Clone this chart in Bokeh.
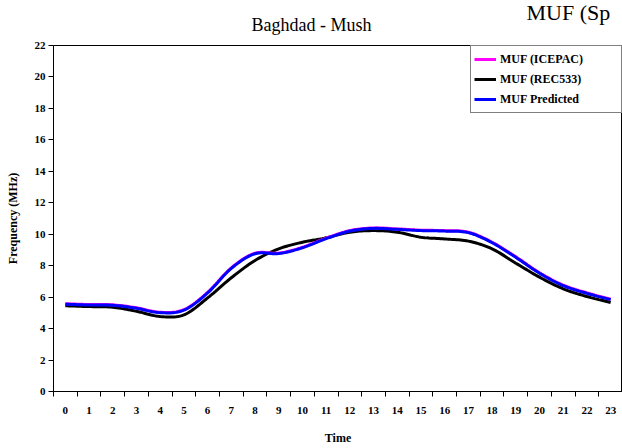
import numpy as np
from bokeh.plotting import figure
from bokeh.models import FixedTicker, Legend, LegendItem, Range1d, Title
from bokeh.embed import file_html
from bokeh.resources import INLINE

hours = list(range(24))
hour_labels = [str(h) for h in hours]
muf_icepac = [5.58, 5.53, 5.51, 5.32, 5.04, 5.20, 6.30, 7.86, 8.79, 8.80, 9.17, 9.75,
              10.23, 10.40, 10.34, 10.26, 10.23, 10.13, 9.49, 8.56, 7.55, 6.76, 6.27, 5.87]
muf_rec533 = [5.45, 5.40, 5.36, 5.10, 4.77, 4.87, 5.95, 7.23, 8.33, 9.07, 9.49, 9.77,
              10.13, 10.23, 10.13, 9.81, 9.70, 9.56, 9.07, 8.16, 7.27, 6.53, 6.04, 5.66]
muf_predicted = [5.55, 5.50, 5.48, 5.29, 5.01, 5.17, 6.27, 7.83, 8.76, 8.77, 9.14, 9.72,
                 10.20, 10.37, 10.31, 10.23, 10.20, 10.10, 9.46, 8.53, 7.52, 6.73, 6.24, 5.84]
y_ticks = list(range(0, 23, 2))

F_BOLD = "serif"
F_TITLE = "Times New Roman"


def smooth(xs, ys, n=12):
    # Catmull-Rom rendering of a smoothed line through the data points
    x = np.asarray(xs, float)
    y = np.asarray(ys, float)
    px = np.concatenate([[2 * x[0] - x[1]], x, [2 * x[-1] - x[-2]]])
    py = np.concatenate([[2 * y[0] - y[1]], y, [2 * y[-1] - y[-2]]])
    ox, oy = [], []
    t = np.linspace(0, 1, n, endpoint=False)
    for i in range(1, len(px) - 2):
        for arr, out in ((px, ox), (py, oy)):
            p0, p1, p2, p3 = arr[i - 1], arr[i], arr[i + 1], arr[i + 2]
            out.extend(0.5 * ((2 * p1) + (-p0 + p2) * t + (2 * p0 - 5 * p1 + 4 * p2 - p3) * t ** 2
                              + (-p0 + 3 * p1 - 3 * p2 + p3) * t ** 3))
    ox.append(x[-1]); oy.append(y[-1])
    return ox, oy


p = figure(width=622, height=448, output_backend="svg", toolbar_location=None,
           x_range=Range1d(-0.5, 23.5), y_range=Range1d(0, 22),
           min_border_left=53, min_border_right=0, min_border_top=45, min_border_bottom=57)
p.background_fill_color = "white"
p.border_fill_color = "white"
p.outline_line_color = "black"
p.outline_line_width = 1
p.xgrid.visible = False
p.ygrid.visible = False

# X axis: labels centred on hours, tick marks between them
p.xaxis.ticker = FixedTicker(ticks=hours, minor_ticks=[h - 0.5 for h in range(25)])
p.xaxis.major_label_overrides = {h: lab for h, lab in zip(hours, hour_labels)}
p.xaxis.major_tick_line_color = None
p.xaxis.major_tick_out = 0
p.xaxis.major_tick_in = 0
p.xaxis.minor_tick_out = 5
p.xaxis.minor_tick_in = 0
p.xaxis.minor_tick_line_color = "black"
p.xaxis.major_label_standoff = 10
p.xaxis.axis_label = "Time"
p.xaxis.axis_label_standoff = 14

p.yaxis.ticker = FixedTicker(ticks=y_ticks)
p.yaxis.minor_tick_line_color = None
p.yaxis.major_tick_out = 5
p.yaxis.major_tick_in = 0
p.yaxis.major_label_standoff = 3
p.yaxis.axis_label = "Frequency (MHz)"
p.yaxis.axis_label_standoff = 12

for ax in (p.xaxis, p.yaxis):
    ax.axis_line_color = "black"
    ax.major_label_text_font = F_BOLD
    ax.major_label_text_font_style = "bold"
    ax.major_label_text_font_size = "11px"
    ax.major_label_text_color = "black"
    ax.axis_label_text_font = F_BOLD
    ax.axis_label_text_font_style = "bold"
    ax.axis_label_text_font_size = "12px"
    ax.axis_label_text_color = "black"

sx, sy = smooth(hours, muf_rec533)
r_rec = p.line(sx, sy, line_color="black", line_width=3)
sx, sy = smooth(hours, muf_icepac)
r_ice = p.line(sx, sy, line_color="#FF00FF", line_width=3)
sx, sy = smooth(hours, muf_predicted)
r_pred = p.line(sx, sy, line_color="#0000FF", line_width=3)

legend = Legend(items=[LegendItem(label="MUF (ICEPAC)", renderers=[r_ice]),
                       LegendItem(label="MUF (REC533)", renderers=[r_rec]),
                       LegendItem(label="MUF Predicted", renderers=[r_pred])],
                location="top_right", margin=0, padding=3, spacing=0,
                glyph_width=22, glyph_height=20, label_height=20, label_width=118,
                label_standoff=4,
                border_line_color="black", border_line_width=1,
                background_fill_color="white", background_fill_alpha=1,
                label_text_font=F_BOLD, label_text_font_style="bold",
                label_text_font_size="12px", label_text_color="black")
p.add_layout(legend)

p.add_layout(Title(text="Baghdad - Mush", align="left", offset=198, standoff=22,
                   text_font=F_TITLE, text_font_size="18px", text_font_style="normal",
                   text_color="black"), "above")
p.add_layout(Title(text="MUF (Sp", align="left", offset=473, standoff=-46,
                   text_font=F_TITLE, text_font_size="22px", text_font_style="normal",
                   text_color="black"), "above")

open("out.html", "w").write(file_html(p, INLINE))
